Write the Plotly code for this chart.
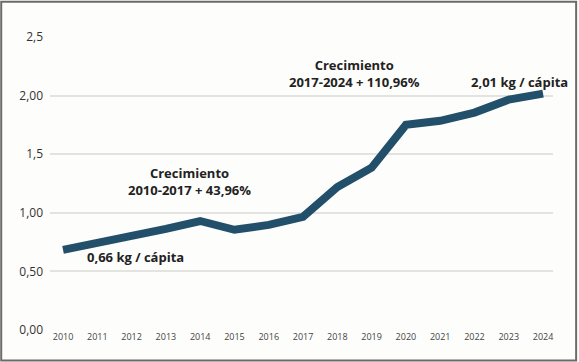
import plotly.graph_objects as go

years = list(range(2010, 2025))
values = [0.684, 0.74, 0.795, 0.863, 0.93, 0.855, 0.897, 0.966, 1.22, 1.385,
          1.75, 1.785, 1.855, 1.966, 2.017]
y_tickvals = [0, 0.5, 1.0, 1.5, 2.0, 2.5]
y_ticktext = ["0,00", "0,50", "1,00", "1,5", "2,00", "2,5"]

fig = go.Figure()
fig.add_trace(go.Scatter(
    x=years, y=values, mode="lines",
    line=dict(color="#22506b", width=8),
    hoverinfo="skip", showlegend=False,
))

ann_font = dict(family="Open Sans", size=13, color="#222222")
annotations = [
    dict(x=2012.1, y=0.627, text="<b>0,66 kg / cápita</b>"),
    dict(x=2013.7, y=1.265, text="<b>Crecimiento<br>2010-2017 + 43,96%</b>"),
    dict(x=2018.5, y=2.19, text="<b>Crecimiento<br>2017-2024 + 110,96%</b>"),
    dict(x=2023.3, y=2.115, text="<b>2,01 kg / cápita</b>"),
]
for a in annotations:
    fig.add_annotation(x=a["x"], y=a["y"], text=a["text"], showarrow=False,
                       font=ann_font, xref="x", yref="y", align="center")

fig.add_shape(type="rect", xref="paper", yref="paper", x0=-0.097, x1=1.046,
              y0=-0.104, y1=1.12,
              line=dict(color="#6b6b6b", width=2), layer="above")

fig.update_layout(
    width=579, height=362,
    margin=dict(l=50, r=26, t=37, b=32),
    paper_bgcolor="#fdfdfb", plot_bgcolor="#fdfdfb",
    xaxis=dict(range=[2009.62, 2024.29], tickvals=years,
               ticktext=[str(y) for y in years],
               tickfont=dict(family="Open Sans", size=9, color="#444444"),
               showgrid=False, zeroline=False, showline=False, ticks=""),
    yaxis=dict(range=[0, 2.5], tickvals=y_tickvals, ticktext=y_ticktext,
               tickfont=dict(family="Open Sans", size=12, color="#333333"),
               showgrid=True, gridcolor="#e3e3e0", gridwidth=1.5,
               zeroline=False, showline=False, ticks="", ticklabelstandoff=6),
)
fig.write_html("out.html", config={"displayModeBar": False},
               post_script="document.body.style.margin='0';document.body.style.background='#fdfdfb';")
